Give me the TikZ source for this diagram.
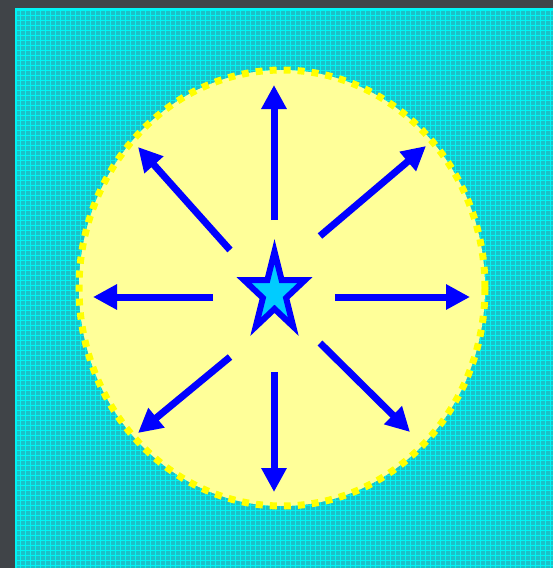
\documentclass[tikz,border=0pt]{standalone}
\usetikzlibrary{arrows.meta, shapes.geometric}

\definecolor{backdark}{RGB}{64,68,72}
\definecolor{panelbase}{RGB}{28,192,200}
\definecolor{panelline}{RGB}{0,244,244}
\definecolor{discfill}{RGB}{255,255,153}
\definecolor{discrim}{RGB}{255,255,0}
\definecolor{rayblue}{RGB}{0,0,255}
\definecolor{starfill}{RGB}{0,204,255}

\begin{document}
\begin{tikzpicture}[
        x=1pt, y=-1pt,
        disc/.style={fill=discfill, draw=discrim, line width=7pt, dash pattern=on 7pt off 7pt},
        ray/.style={-{Triangle[length=24pt, width=24pt]}, line width=7pt, draw=rayblue},
        starnode/.style={star, star points=5, star point ratio=2.618, minimum size=64pt, inner sep=0pt,
            draw=rayblue, line width=6pt, fill=starfill, yscale=1.3}
    ]
        \useasboundingbox (0,0) rectangle (553,568);
        % Background
        \fill[backdark] (0,0) rectangle (553,568);
        \fill[panelline] (15,8) rectangle (553,568);
        \fill[panelbase] (17,10) rectangle (553,568);
        \draw[panelline, line width=1pt, step=5pt] (17,10) grid (553,568);

        % Disc
        \path[disc] (282,288) ellipse [x radius=203, y radius=218];

        % Nodes
        \node[starnode] (centre) at (274.5,293) {};

        % Ray ends
        \coordinate (n-tail) at (274,220);   \coordinate (n-tip) at (274,85);
        \coordinate (s-tail) at (274,372);   \coordinate (s-tip) at (274,492);
        \coordinate (w-tail) at (213,297);   \coordinate (w-tip) at (93,297);
        \coordinate (e-tail) at (335,297);   \coordinate (e-tip) at (470,297);
        \coordinate (nw-tail) at (230,250);  \coordinate (nw-tip) at (138,147);
        \coordinate (ne-tail) at (320,236);  \coordinate (ne-tip) at (426,146);
        \coordinate (sw-tail) at (230,357);  \coordinate (sw-tip) at (138,433);
        \coordinate (se-tail) at (320,343);  \coordinate (se-tip) at (410,432);

        % Arrows
        \foreach \d in {n, ne, e, se, s, sw, w, nw}
            \draw[ray] (\d-tail) -- (\d-tip);
    \end{tikzpicture}
\end{document}
